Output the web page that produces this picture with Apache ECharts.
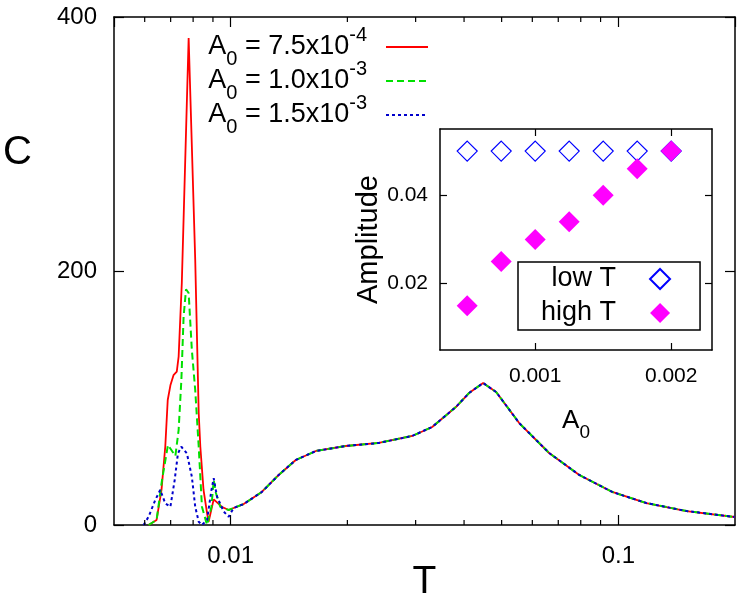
<!DOCTYPE html>
<html>
<head>
<meta charset="utf-8">
<script src="https://cdn.jsdelivr.net/npm/echarts@6/dist/echarts.min.js"></script>
<style>
html,body{margin:0;padding:0;background:#fff}
#chart{width:743px;height:616px}
</style>
</head>
<body>
<div id="chart"></div>
<script>
const FONT = 'Liberation Sans'

// main plot: C(T), three amplitudes. low T part differs, tail is shared
const commonT = [0.01018, 0.0108, 0.01203, 0.0133, 0.01472, 0.0166, 0.0198, 0.0241, 0.0294, 0.0331, 0.0381, 0.0412, 0.0448, 0.0484, 0.0555, 0.0663, 0.0793, 0.0965, 0.1181, 0.1499, 0.1995]
const commonC = [13.4, 16.5, 26, 39.4, 51.2, 58.3, 62.2, 64.6, 70.1, 77.2, 92.9, 103.9, 111.8, 104.7, 80.3, 56.7, 39.4, 26, 17.3, 11, 6.3]

const redLowT = [0.00614, 0.00644, 0.00663, 0.00678, 0.00688, 0.00699, 0.00712, 0.00726, 0.00734, 0.00748, 0.00779, 0.0081, 0.00827, 0.00835, 0.00851, 0.00869, 0.00877, 0.00904, 0.00948, 0.00988]
const redLowC = [0, 4, 27.6, 61.6, 98.4, 110, 118, 120.7, 132.5, 190.6, 383.5, 209, 88.2, 61.6, 27.6, 9.4, 2.6, 20.2, 14.4, 11.8]

const greenLowT = [0.00614, 0.00644, 0.00665, 0.00689, 0.0072, 0.00734, 0.00746, 0.00756, 0.00767, 0.00779, 0.00794, 0.0081, 0.00827, 0.00843, 0.00869, 0.00892, 0.00904, 0.00916, 0.0094, 0.00988]
const greenLowC = [0, 4, 35.4, 63, 54.3, 74.8, 114, 164, 185.6, 182.7, 137.8, 106.3, 61.6, 14.4, 0, 14.4, 35.4, 25.2, 14.4, 11.8]

const blueLowT = [0.00596, 0.00614, 0.00639, 0.00658, 0.00678, 0.00699, 0.00717, 0.00731, 0.00746, 0.00771, 0.00794, 0.0081, 0.00827, 0.00843, 0.00869, 0.00892, 0.00904, 0.00922, 0.0096, 0.00988]
const blueLowC = [0, 6.5, 19.7, 27.6, 17, 14.4, 35.4, 56.4, 61.6, 56.4, 38, 14.4, 2.6, 0, 4, 27.6, 36.8, 22.3, 10.5, 6.5]

const seriesNames = ['A0 = 7.5x10-4', 'A0 = 1.0x10-3', 'A0 = 1.5x10-3']
const legendTexts = ['A{sub|0} = 7.5x10{sup|-4}', 'A{sub|0} = 1.0x10{sup|-3}', 'A{sub|0} = 1.5x10{sup|-3}']

const xMajorTicks = [0.01, 0.1]
const xMajorLabels = ['0.01', '0.1']
const xMinorTicks = [0.006, 0.007, 0.008, 0.009, 0.02, 0.03, 0.04, 0.05, 0.06, 0.07, 0.08, 0.09]

// inset: amplitude vs A0
const ampA0 = [0.0005, 0.00075, 0.001, 0.00125, 0.0015, 0.00175, 0.002]
const ampLowT = [0.05, 0.05, 0.05, 0.05, 0.05, 0.05, 0.05]
const ampHighT = [0.015, 0.025, 0.030, 0.034, 0.040, 0.046, 0.050]
const insetXTicks = [0.001, 0.002]
const insetXLabels = ['0.001', '0.002']
const insetYTicks = [0.02, 0.04]
const insetYLabels = ['0.02', '0.04']

const pairs = (xs, ys) => xs.map((x, i) => [x, ys[i]])
const redData = pairs(redLowT.concat(commonT), redLowC.concat(commonC))
const greenData = pairs(greenLowT.concat(commonT), greenLowC.concat(commonC))
const blueData = pairs(blueLowT.concat(commonT), blueLowC.concat(commonC))

const axisLine = {show: true, onZero: false, lineStyle: {color: '#000', width: 1.5}}
const tickStyle = {color: '#000', width: 1.2}

const chart = echarts.init(document.getElementById('chart'))

const option = {
    animation: false,
    backgroundColor: '#fff',
    textStyle: {fontFamily: FONT, color: '#000'},
    grid: [
        {left: 114, top: 17, right: 8, bottom: 91, outerBoundsMode: 'none'},
        {left: 440, top: 129, width: 272, height: 221, show: true, backgroundColor: '#fff', borderWidth: 0, outerBoundsMode: 'none'}
    ],
    xAxis: [
        {
            type: 'log', logBase: 10, gridIndex: 0, min: 0.005, max: 0.2, position: 'bottom',
            axisLine: axisLine,
            axisTick: {inside: true, length: 10, lineStyle: tickStyle},
            axisLabel: {
                fontSize: 24, color: '#000', fontFamily: FONT, margin: 19,
                showMinLabel: false, showMaxLabel: false,
                formatter: (v) => {
                    for (let i = 0; i < xMajorTicks.length; i++) {
                        if (Math.abs(Math.log10(v) - Math.log10(xMajorTicks[i])) < 1e-6) return xMajorLabels[i]
                    }
                    return ''
                }
            },
            splitLine: {show: false},
            name: 'T', nameLocation: 'middle', nameGap: 38, nameMoveOverlap: false,
            nameTextStyle: {fontSize: 39, color: '#000', fontFamily: FONT}
        },
        {
            type: 'log', logBase: 10, gridIndex: 0, min: 0.005, max: 0.2, position: 'top',
            axisLine: axisLine,
            axisTick: {inside: true, length: 10, lineStyle: tickStyle},
            axisLabel: {show: false},
            splitLine: {show: false}
        },
        {
            type: 'value', gridIndex: 1, min: 0.0003, max: 0.0023, position: 'bottom',
            axisLine: axisLine,
            axisTick: {inside: true, length: 7, lineStyle: tickStyle, customValues: insetXTicks},
            axisLabel: {
                fontSize: 21, color: '#000', fontFamily: FONT, margin: 16, customValues: insetXTicks,
                formatter: (v) => insetXLabels[insetXTicks.findIndex(t => Math.abs(t - v) < 1e-9)] || ''
            },
            splitLine: {show: false},
            name: 'A{sub|0}', nameLocation: 'middle', nameGap: 58,
            nameTextStyle: {
                fontSize: 26, color: '#000', fontFamily: FONT,
                rich: {sub: {fontSize: 19, fontFamily: FONT, color: '#000', verticalAlign: 'bottom', padding: [0, 0, -8, 0]}}
            }
        },
        {
            type: 'value', gridIndex: 1, min: 0.0003, max: 0.0023, position: 'top',
            axisLine: axisLine,
            axisTick: {inside: true, length: 7, lineStyle: tickStyle, customValues: insetXTicks},
            axisLabel: {show: false},
            splitLine: {show: false}
        }
    ],
    yAxis: [
        {
            type: 'value', gridIndex: 0, min: 0, max: 400, interval: 200, position: 'left',
            axisLine: axisLine,
            axisTick: {inside: true, length: 10, lineStyle: tickStyle},
            axisLabel: {fontSize: 24, color: '#000', fontFamily: FONT, margin: 17},
            splitLine: {show: false}
        },
        {
            type: 'value', gridIndex: 0, min: 0, max: 400, interval: 200, position: 'right',
            axisLine: axisLine,
            axisTick: {inside: true, length: 10, lineStyle: tickStyle},
            axisLabel: {show: false},
            splitLine: {show: false}
        },
        {
            type: 'value', gridIndex: 1, min: 0.005, max: 0.055, position: 'left',
            axisLine: axisLine,
            axisTick: {inside: true, length: 7, lineStyle: tickStyle, customValues: insetYTicks},
            axisLabel: {
                fontSize: 21, color: '#000', fontFamily: FONT, margin: 12, customValues: insetYTicks,
                formatter: (v) => insetYLabels[insetYTicks.findIndex(t => Math.abs(t - v) < 1e-9)] || ''
            },
            splitLine: {show: false},
            name: 'Amplitude', nameLocation: 'middle', nameGap: 43, nameRotate: 90,
            nameTextStyle: {fontSize: 29, color: '#000', fontFamily: FONT}
        },
        {
            type: 'value', gridIndex: 1, min: 0.005, max: 0.055, position: 'right',
            axisLine: axisLine,
            axisTick: {inside: true, length: 7, lineStyle: tickStyle, customValues: insetYTicks},
            axisLabel: {show: false},
            splitLine: {show: false}
        }
    ],
    legend: [
        {
            data: seriesNames, orient: 'vertical', align: 'right',
            right: 314, top: 25, padding: 0, itemGap: -10,
            itemWidth: 42, itemHeight: 14,
            itemStyle: {opacity: 0},
            formatter: (name) => legendTexts[seriesNames.indexOf(name)],
            textStyle: {
                fontSize: 27, lineHeight: 44, color: '#000', fontFamily: FONT, padding: [0, 14, 0, 0],
                rich: {
                    sub: {fontSize: 20, lineHeight: 20, verticalAlign: 'bottom', fontFamily: FONT, color: '#000'},
                    sup: {fontSize: 20, lineHeight: 20, verticalAlign: 'top', fontFamily: FONT, color: '#000'}
                }
            }
        },
        {
            data: ['low T', 'high T'], orient: 'vertical', align: 'right',
            left: 518, top: 262, padding: [1, 29, 1, 23], itemGap: 2,
            itemWidth: 20, itemHeight: 20,
            borderColor: '#000', borderWidth: 1.5, borderRadius: 0, backgroundColor: '#fff',
            textStyle: {fontSize: 27, lineHeight: 32, color: '#000', fontFamily: FONT, padding: [0, 29, 0, 0]}
        }
    ],
    graphic: [
        {type: 'text', left: 3, top: 133, style: {text: 'C', fontSize: 40, fontFamily: FONT, fill: '#000'}}
    ],
    series: [
        {
            name: seriesNames[0], type: 'line', xAxisIndex: 0, yAxisIndex: 0, data: redData,
            symbol: 'none', color: '#ff0000', lineStyle: {color: '#ff0000', width: 1.8, type: 'solid'}, z: 3
        },
        {
            name: seriesNames[1], type: 'line', xAxisIndex: 0, yAxisIndex: 0, data: greenData,
            symbol: 'none', color: '#00e000', lineStyle: {color: '#00e000', width: 2, type: [7, 4]}, z: 4
        },
        {
            name: seriesNames[2], type: 'line', xAxisIndex: 0, yAxisIndex: 0, data: blueData,
            symbol: 'none', color: '#0000cc', lineStyle: {color: '#0000cc', width: 2, type: [3, 3]}, z: 5
        },
        {
            // minor ticks of the log axis, bottom and top
            type: 'custom', xAxisIndex: 0, yAxisIndex: 0, silent: true, z: 6,
            data: xMinorTicks.map(v => [v, 0]),
            encode: {x: 0, y: 1},
            renderItem: (params, api) => {
                const b = api.coord([api.value(0), 0])
                const t = api.coord([api.value(0), 400])
                return {
                    type: 'group',
                    children: [
                        {type: 'line', shape: {x1: b[0], y1: b[1], x2: b[0], y2: b[1] - 5}, style: {stroke: '#000', lineWidth: 1.2}},
                        {type: 'line', shape: {x1: t[0], y1: t[1], x2: t[0], y2: t[1] + 5}, style: {stroke: '#000', lineWidth: 1.2}}
                    ]
                }
            }
        },
        {
            name: 'low T', type: 'scatter', xAxisIndex: 2, yAxisIndex: 2, data: pairs(ampA0, ampLowT),
            symbol: 'diamond', symbolSize: 20,
            itemStyle: {color: '#fff', borderColor: '#0000ff', borderWidth: 1.2, opacity: 1}, z: 3
        },
        {
            name: 'high T', type: 'scatter', xAxisIndex: 2, yAxisIndex: 2, data: pairs(ampA0, ampHighT),
            symbol: 'diamond', symbolSize: 21,
            itemStyle: {color: '#ff00ff', opacity: 1}, z: 4
        }
    ]
}

chart.setOption(option)
</script>
</body>
</html>
